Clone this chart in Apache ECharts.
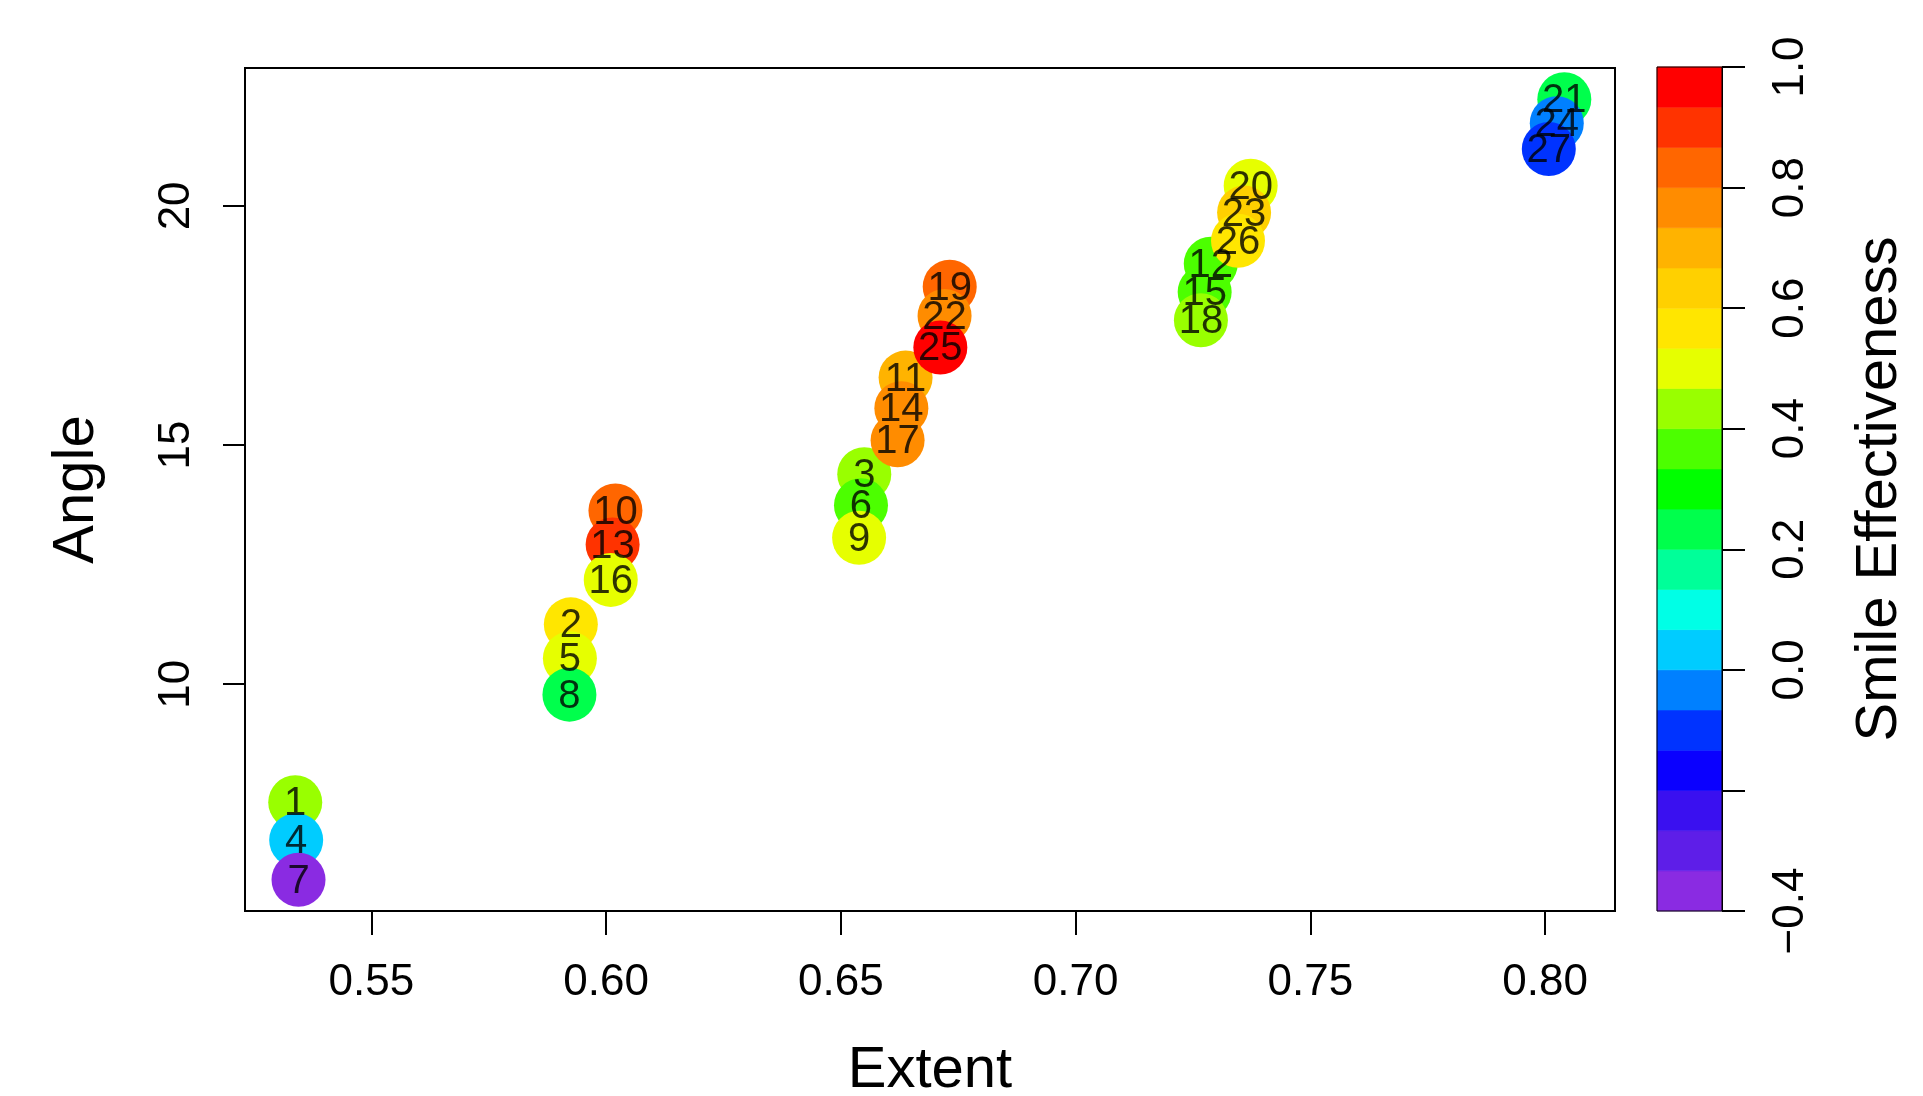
<!DOCTYPE html>
<html>
<head>
<meta charset="utf-8">
<script src="https://cdn.jsdelivr.net/npm/echarts@6/dist/echarts.min.js"></script>
<style>
html,body{margin:0;padding:0;background:#fff;}
#chart{width:1923px;height:1096px;}
</style>
</head>
<body>
<div id="chart"></div>
<script>
// ---- data ----
var pointIds = ['1','2','3','4','5','6','7','8','9','10','11','12','13','14','15','16','17','18','19','20','21','22','23','24','25','26','27'];
var extent = [0.5338, 0.5925, 0.6550, 0.5340, 0.5923, 0.6543, 0.5345, 0.5922, 0.6539, 0.6020, 0.6638, 0.7288, 0.6014, 0.6629, 0.7275, 0.6010, 0.6621, 0.7267, 0.6732, 0.7373, 0.8041, 0.6721, 0.7359, 0.8025, 0.6712, 0.7346, 0.8008];
var angle = [7.53, 11.25, 14.39, 6.74, 10.54, 13.74, 5.91, 9.78, 13.06, 13.63, 16.41, 18.79, 12.92, 15.77, 18.20, 12.18, 15.10, 17.61, 18.31, 20.42, 22.23, 17.70, 19.86, 21.73, 17.04, 19.27, 21.19];
var smile = [0.43, 0.57, 0.43, 0.03, 0.50, 0.37, -0.37, 0.23, 0.50, 0.83, 0.70, 0.37, 0.90, 0.77, 0.37, 0.50, 0.77, 0.43, 0.83, 0.50, 0.23, 0.77, 0.63, -0.03, 0.97, 0.57, -0.10];
var xTicks = [0.55, 0.60, 0.65, 0.70, 0.75, 0.80];
var yTicks = [10, 15, 20];
var barTickMarks = [-0.4, -0.2, 0.0, 0.2, 0.4, 0.6, 0.8, 1.0];
var barTicks = [1.0, 0.8, 0.6, 0.4, 0.2, 0.0, -0.4];
// colour bins, bottom (-0.4) to top (1.0)
var palette = ['#8A2BE2','#5E1EE8','#3A10F0','#0A00FF','#0033FF','#0080FF','#00CCFF','#00FFE6','#00FF99','#00FF4C','#00FF00','#4CFF00','#99FF00','#E6FF00','#FFE600','#FFD000','#FFB300','#FF8C00','#FF6600','#FF3300','#FF0000'];
var barMin = -0.4, barMax = 1.0;

// ---- build ----
var nBins = palette.length;
var bins = [], pieces = [];
for (var i = 0; i < nBins; i++) {
  var lo = barMin + (barMax - barMin) * i / nBins;
  var hi = barMin + (barMax - barMin) * (i + 1) / nBins;
  bins.push([lo, hi, i]);
  var p = {gte: lo, color: palette[i]};
  if (i === nBins - 1) p.lte = hi + 1e-9; else p.lt = hi;
  pieces.push(p);
}
var pts = [];
for (var j = 0; j < pointIds.length; j++) {
  pts.push({name: pointIds[j], value: [extent[j], angle[j], smile[j]]});
}
var FONT = 'Liberation Sans, Arial, sans-serif';
function fmtNum(v, d) {
  return v.toFixed(d).replace('-', '\u2212');
}

var chart = echarts.init(document.getElementById('chart'), null, {renderer: 'canvas'});
chart.setOption({
  animation: false,
  backgroundColor: '#fff',
  textStyle: {fontFamily: FONT},
  grid: [
    {left: 245, top: 68, width: 1370, height: 843, show: true, borderColor: '#000', borderWidth: 2, backgroundColor: 'transparent', outerBoundsMode: 'none'},
    {left: 1657, top: 67, width: 65, height: 844, show: true, borderColor: '#000', borderWidth: 1, backgroundColor: 'transparent', outerBoundsMode: 'none', z: 3}
  ],
  xAxis: [
    {
      gridIndex: 0, type: 'value', min: 0.5231, max: 0.8149,
      name: 'Extent', nameLocation: 'middle', nameGap: 131, nameMoveOverlap: false,
      nameTextStyle: {fontSize: 58, color: '#000', fontFamily: FONT},
      axisLine: {show: false},
      splitLine: {show: false},
      axisTick: {show: true, inside: false, length: 24, customValues: xTicks, lineStyle: {color: '#000', width: 2}},
      axisLabel: {show: true, margin: 50, fontSize: 44, color: '#000', fontFamily: FONT, customValues: xTicks,
        formatter: function (v) { return fmtNum(v, 2); }}
    },
    {gridIndex: 1, type: 'value', min: 0, max: 1, show: false, axisLine: {onZero: false}}
  ],
  yAxis: [
    {
      gridIndex: 0, type: 'value', min: 5.257, max: 22.883,
      name: 'Angle', nameLocation: 'middle', nameGap: 139, nameMoveOverlap: false,
      nameTextStyle: {fontSize: 58, color: '#000', fontFamily: FONT},
      axisLine: {show: false},
      splitLine: {show: false},
      axisTick: {show: true, inside: false, length: 22, customValues: yTicks, lineStyle: {color: '#000', width: 2}},
      axisLabel: {show: true, rotate: 90, margin: 46, fontSize: 44, color: '#000', fontFamily: FONT, customValues: yTicks,
        formatter: function (v) { return String(Math.round(v)); }}
    },
    {
      gridIndex: 1, type: 'value', position: 'right', min: barMin, max: barMax, interval: 0.2, z: 10,
      name: 'Smile Effectiveness', nameLocation: 'middle', nameGap: 129, nameMoveOverlap: false,
      nameTextStyle: {fontSize: 58, color: '#000', fontFamily: FONT},
      axisLine: {show: true, onZero: false, lineStyle: {color: '#000', width: 1}},
      splitLine: {show: false},
      axisTick: {show: true, inside: false, length: 23, customValues: barTickMarks, lineStyle: {color: '#000', width: 2}},
      axisLabel: {show: true, rotate: 90, margin: 47, fontSize: 44, color: '#000', fontFamily: FONT, customValues: barTicks,
        showMinLabel: true, showMaxLabel: true,
        formatter: function (v) { return fmtNum(v, 1); }}
    }
  ],
  visualMap: {
    type: 'piecewise', show: false, dimension: 2, seriesIndex: 0, pieces: pieces
  },
  series: [
    {
      type: 'scatter', xAxisIndex: 0, yAxisIndex: 0, symbol: 'circle', symbolSize: 54,
      data: pts, itemStyle: {opacity: 1}, emphasis: {disabled: true}, z: 2
    },
    {
      type: 'scatter', xAxisIndex: 0, yAxisIndex: 0, symbol: 'circle', symbolSize: 54,
      data: pts, itemStyle: {color: 'rgba(0,0,0,0)'}, emphasis: {disabled: true}, z: 5,
      label: {show: true, position: 'inside', offset: [0, 2], formatter: '{b}', fontSize: 40, color: '#000', fontFamily: FONT}
    },
    {
      type: 'custom', xAxisIndex: 1, yAxisIndex: 1, data: bins, encode: {x: 2, y: [0, 1]},
      renderItem: function (params, api) {
        var lo = api.value(0), hi = api.value(1);
        var p0 = api.coord([0, lo]);
        var p1 = api.coord([1, hi]);
        var c = palette[api.value(2)];
        return {
          type: 'rect',
          shape: {x: p0[0], y: p1[1], width: p1[0] - p0[0], height: p0[1] - p1[1]},
          style: {fill: c, stroke: c, lineWidth: 0.6}
        };
      },
      z: 1
    }
  ]
});
</script>
</body>
</html>
